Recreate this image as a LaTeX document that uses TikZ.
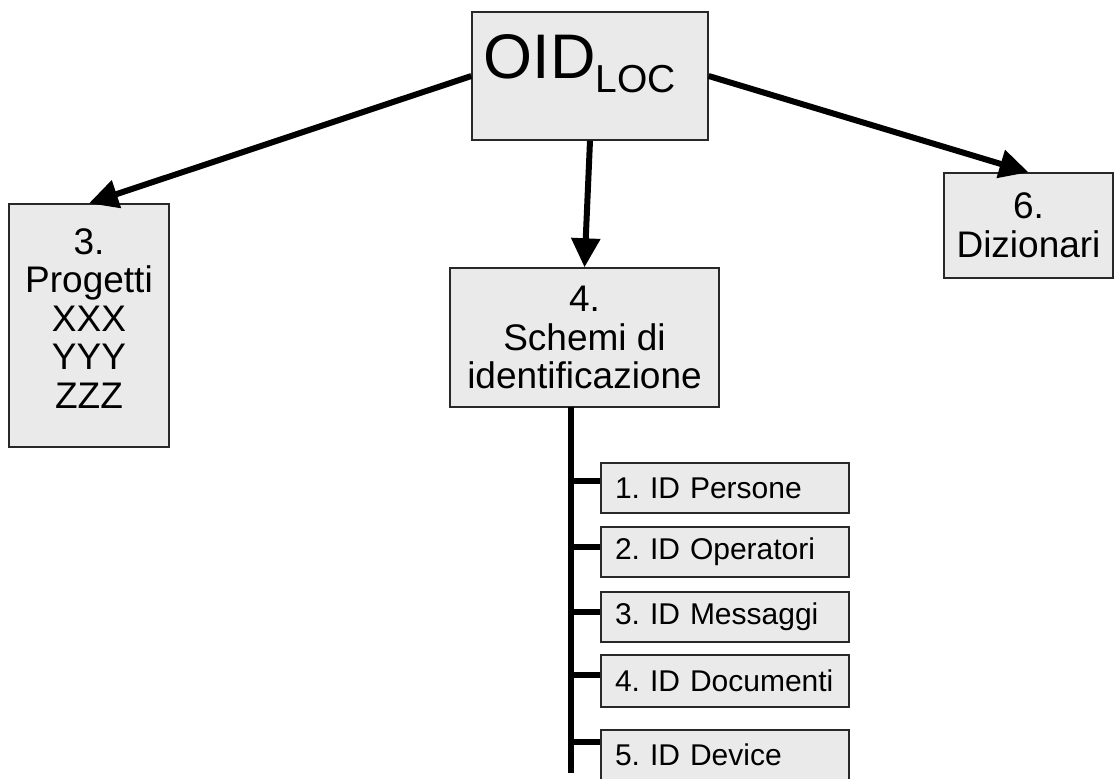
\documentclass[tikz,border=0pt]{standalone}
\usepackage{fontspec}
\setmainfont{Liberation Sans}
\usetikzlibrary{arrows.meta}
\definecolor{boxfill}{RGB}{234,234,234}
\definecolor{boxline}{RGB}{40,40,40}
\frenchspacing
\begin{document}
\begin{tikzpicture}[x=1pt,y=-1pt,
  box/.style={draw=boxline,line width=1.4pt,fill=boxfill,inner sep=0pt,align=center,
    font=\fontsize{37}{38.5}\selectfont},
  subbox/.style={draw=boxline,line width=1.4pt,fill=boxfill,inner sep=0pt,
    minimum width=248pt,minimum height=50pt,font=\fontsize{30}{32}\selectfont,
    text width=220pt,align=left},
  arr/.style={line width=6pt,-{Triangle[length=29pt,width=28pt]}},
  tick/.style={line width=5.5pt},
  spine/.style={line width=6pt}]
\useasboundingbox (0,0) rectangle (1114,779);

\node[box,minimum width=236pt,minimum height=128pt] (oid) at (590,76)
  {\raisebox{-2pt}[0pt][0pt]{\fontsize{63}{63}\selectfont OID\raisebox{-14pt}{\fontsize{39}{39}\selectfont LOC}}\hspace*{20pt}};
\node[box,minimum width=160pt,minimum height=243pt] (prog) at (89,325.5)
  {\raisebox{1pt}[0pt][0pt]{\parbox{150pt}{\centering 3.\\Progetti\\XXX\\YYY\\ZZZ}}};
\node[box,minimum width=169pt,minimum height=105pt] (diz) at (1028.5,225.5)
  {6.\\Dizionari};
\node[box,minimum width=269pt,minimum height=139pt] (sch) at (584.5,337.5)
  {4.\\Schemi di\\identificazione};

\node[subbox] (s1) at (725,488) {1. ID Persone};
\node[subbox] (s2) at (725,552) {2. ID Operatori};
\node[subbox] (s3) at (725,617) {3. ID Messaggi};
\node[subbox,minimum height=52pt] (s4) at (725,681) {4. ID Documenti};
\node[subbox] (s5) at (725,755) {5. ID Device};

\draw[arr] (oid.west) -- (prog.north);
\draw[arr] (oid.east) -- (diz.north);
\draw[arr] (oid.south) -- (sch.north);

\coordinate (sptop) at (571,407);
\coordinate (spbot) at (571,773);
\draw[spine] (sptop) -- (spbot);
\draw[tick] ([yshift=7pt]sptop |- s1.west) -- ([yshift=7pt]s1.west);
\draw[tick] ([yshift=5pt]sptop |- s2.west) -- ([yshift=5pt]s2.west);
\draw[tick] ([yshift=5pt]sptop |- s3.west) -- ([yshift=5pt]s3.west);
\draw[tick] ([yshift=6pt]sptop |- s4.west) -- ([yshift=6pt]s4.west);
\draw[tick] ([yshift=13pt]sptop |- s5.west) -- ([yshift=13pt]s5.west);
\end{tikzpicture}
\end{document}
